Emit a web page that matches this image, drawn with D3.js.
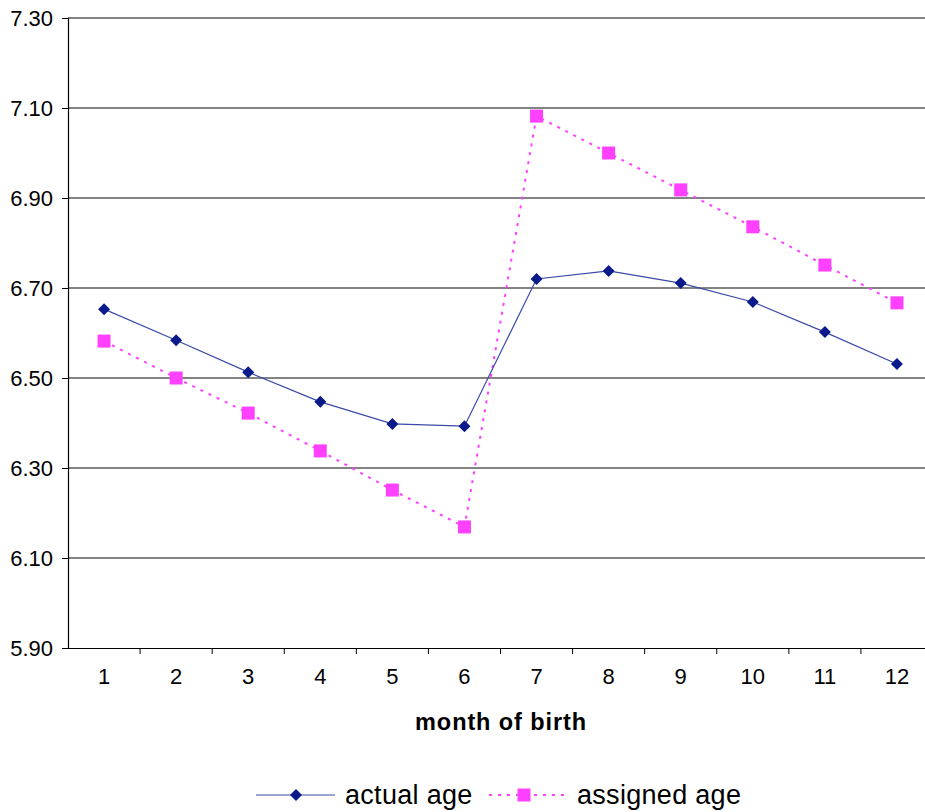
<!DOCTYPE html>
<html><head><meta charset="utf-8">
<script src="https://cdn.jsdelivr.net/npm/d3@7"></script>
<style>body{margin:0;background:#fff}svg{display:block;font-family:Arial,"Liberation Sans",sans-serif}</style>
</head><body><svg id="c" width="925" height="812"></svg>
<script>
const months = ["1","2","3","4","5","6","7","8","9","10","11","12"];
const actualAge = [6.653,6.584,6.513,6.447,6.398,6.393,6.720,6.738,6.711,6.669,6.602,6.531];
const assignedAge = [6.582,6.500,6.422,6.338,6.251,6.169,7.082,7.000,6.918,6.836,6.751,6.667];
const yTicks = [5.90,6.10,6.30,6.50,6.70,6.90,7.10,7.30];
const xTitle = "month of birth";
const seriesNames = ["actual age","assigned age"];

const svg = d3.select("#c");
const L=68, R=933, T=18, B=648;
const x = d3.scaleBand().domain(months).range([L,R]);
const y = d3.scaleLinear().domain([5.90,7.30]).range([B,T]);
const FONT = "Arial, 'Liberation Sans', sans-serif";

// gridlines
svg.append("g").selectAll("line").data(yTicks.slice(1)).join("line")
  .attr("x1",L).attr("x2",R).attr("y1",d=>y(d)).attr("y2",d=>y(d))
  .attr("stroke","#5a5a5a").attr("stroke-width",1.5);

// y axis
const ya = svg.append("g").attr("transform",`translate(${L},0)`)
  .call(d3.axisLeft(y).tickValues(yTicks).tickFormat(d3.format(".2f")).tickSize(6).tickPadding(9));
ya.select(".domain").attr("stroke","#000").attr("stroke-width",1.2);
ya.selectAll(".tick line").attr("stroke","#000");
ya.selectAll("text").attr("font-size",22).attr("fill","#000").attr("font-family",FONT);

// x axis
const xa = svg.append("g").attr("transform",`translate(0,${B})`)
  .call(d3.axisBottom(x).tickSize(0).tickPadding(20));
xa.select(".domain").attr("stroke","#000").attr("stroke-width",1.2);
xa.selectAll("text").attr("font-size",22).attr("fill","#000").attr("font-family",FONT);
svg.append("g").selectAll("line").data(months.slice(1)).join("line")
  .attr("x1",d=>x(d)).attr("x2",d=>x(d)).attr("y1",B).attr("y2",B+6).attr("stroke","#000");

svg.append("text").attr("x",501).attr("y",730).attr("text-anchor","middle")
  .attr("font-size",23.5).attr("font-weight","bold").attr("letter-spacing",0.9).text(xTitle);

const cx = d=>x(d)+x.bandwidth()/2;
const line = d3.line().x((d,i)=>cx(months[i])).y(d=>y(d));

// assigned
svg.append("path").datum(assignedAge).attr("d",line).attr("fill","none")
  .attr("stroke","#ff40ff").attr("stroke-width",2).attr("stroke-dasharray","3,6");
// actual
svg.append("path").datum(actualAge).attr("d",line).attr("fill","none")
  .attr("stroke","#3a4aa8").attr("stroke-width",1.2);

svg.append("g").selectAll("path").data(actualAge).join("path")
  .attr("d",d3.symbol().type(d3.symbolSquare).size(72)())
  .attr("transform",(d,i)=>`translate(${cx(months[i])},${y(d)}) rotate(45)`)
  .attr("fill","#0a1a8a");
svg.append("g").selectAll("rect").data(assignedAge).join("rect")
  .attr("x",(d,i)=>cx(months[i])-6.5).attr("y",d=>y(d)-6.5).attr("width",13).attr("height",13)
  .attr("fill","#ff40ff");

// legend
const lg = svg.append("g");
lg.append("line").attr("x1",256).attr("x2",335).attr("y1",795).attr("y2",795).attr("stroke","#3a4aa8").attr("stroke-width",1.2);
lg.append("path").attr("d",d3.symbol().type(d3.symbolSquare).size(72)()).attr("transform","translate(296,795) rotate(45)").attr("fill","#0a1a8a");
lg.append("text").attr("x",345).attr("y",804).attr("font-size",27).attr("letter-spacing",0.3).text(seriesNames[0]);
lg.append("line").attr("x1",489).attr("x2",565).attr("y1",795).attr("y2",795).attr("stroke","#ff40ff").attr("stroke-width",2).attr("stroke-dasharray","3,6");
lg.append("rect").attr("x",517.5).attr("y",788.5).attr("width",13).attr("height",13).attr("fill","#ff40ff");
lg.append("text").attr("x",577).attr("y",804).attr("font-size",27).attr("letter-spacing",0.3).text(seriesNames[1]);
</script></body></html>
